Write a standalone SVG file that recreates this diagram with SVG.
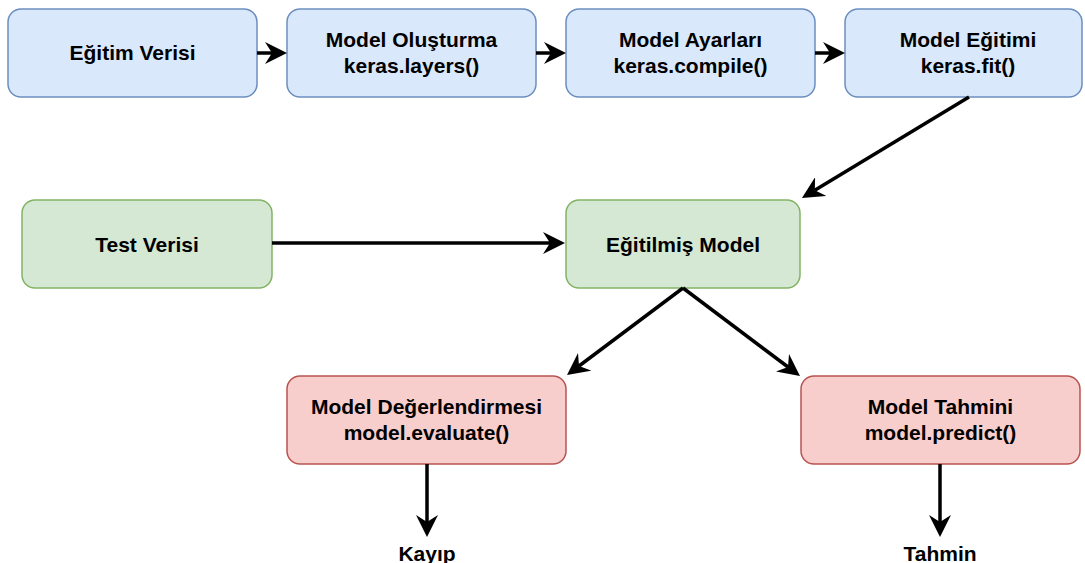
<svg xmlns="http://www.w3.org/2000/svg" width="1085" height="563" viewBox="0 0 1085 563">
  <style>
    .box { stroke-width: 1.5; }
    .blue { fill: #dae8fc; stroke: #6c8ebf; }
    .green { fill: #d5e8d4; stroke: #82b366; }
    .red { fill: #f8cecc; stroke: #b85450; }
    text { font-family: "Liberation Sans", Arial, Helvetica, sans-serif; font-weight: bold; font-size: 21px; fill: #000; text-anchor: middle; }
    .edge { stroke: #000; stroke-width: 3.5; fill: none; marker-end: url(#arrow); }
  </style>
  <defs>
    <marker id="arrow" markerUnits="userSpaceOnUse" viewBox="0 0 22 22" refX="7" refY="11" markerWidth="22" markerHeight="22" orient="auto">
      <path d="M0,0 L22,11 L0,22 L7,11 Z" fill="#000"/>
    </marker>
  </defs>
  <rect width="1085" height="563" fill="#fff"/>

  <g id="n-egitim-verisi">
    <rect class="box blue" x="8" y="9" width="249" height="88" rx="13"/>
    <text x="132.5" y="60">Eğitim Verisi</text>
  </g>
  <g id="n-model-olusturma">
    <rect class="box blue" x="287" y="9" width="249" height="88" rx="13"/>
    <text x="411.5" y="47">Model Oluşturma</text>
    <text x="411.5" y="73">keras.layers()</text>
  </g>
  <g id="n-model-ayarlari">
    <rect class="box blue" x="566" y="9" width="249" height="88" rx="13"/>
    <text x="690.5" y="47">Model Ayarları</text>
    <text x="690.5" y="73">keras.compile()</text>
  </g>
  <g id="n-model-egitimi">
    <rect class="box blue" x="845" y="9" width="237" height="88" rx="13"/>
    <text x="968" y="47">Model Eğitimi</text>
    <text x="968" y="73">keras.fit()</text>
  </g>
  <g id="n-test-verisi">
    <rect class="box green" x="22" y="200" width="250" height="88" rx="13"/>
    <text x="147" y="251.5">Test Verisi</text>
  </g>
  <g id="n-egitilmis-model">
    <rect class="box green" x="566" y="200" width="234" height="88" rx="13"/>
    <text x="683" y="251.5">Eğitilmiş Model</text>
  </g>
  <g id="n-model-degerlendirmesi">
    <rect class="box red" x="287" y="376" width="279" height="88" rx="13"/>
    <text x="426.5" y="414">Model Değerlendirmesi</text>
    <text x="426.5" y="440">model.evaluate()</text>
  </g>
  <g id="n-model-tahmini">
    <rect class="box red" x="801" y="376" width="279" height="88" rx="13"/>
    <text x="940.5" y="414">Model Tahmini</text>
    <text x="940.5" y="440">model.predict()</text>
  </g>
  <g id="n-kayip">
    <text x="427" y="561">Kayıp</text>
  </g>
  <g id="n-tahmin">
    <text x="940" y="561">Tahmin</text>
  </g>

  <g id="connectors">
    <line class="edge" x1="257" y1="53" x2="272" y2="53"/>
    <line class="edge" x1="536" y1="53" x2="551" y2="53"/>
    <line class="edge" x1="815" y1="53" x2="830" y2="53"/>
    <line class="edge" x1="969" y1="97" x2="814.8" y2="190.2"/>
    <line class="edge" x1="272" y1="243" x2="550" y2="243"/>
    <line class="edge" x1="683" y1="288" x2="579" y2="366"/>
    <line class="edge" x1="683" y1="288" x2="788" y2="367"/>
    <line class="edge" x1="427" y1="464" x2="427" y2="522"/>
    <line class="edge" x1="940" y1="464" x2="940" y2="522"/>
  </g>
</svg>
